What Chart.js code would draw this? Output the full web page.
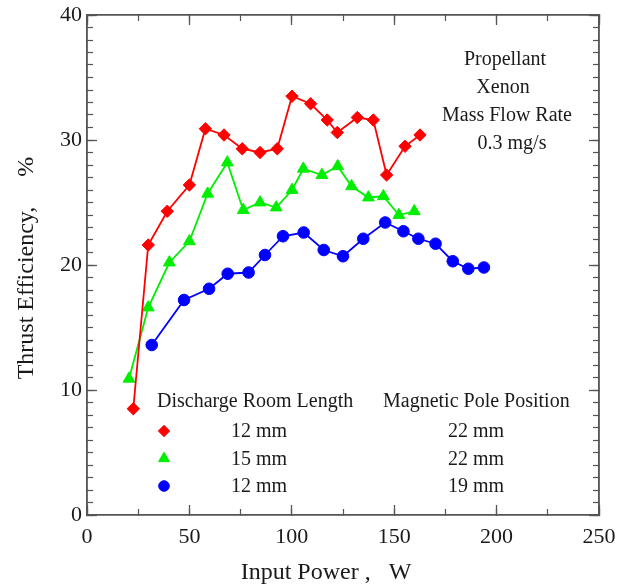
<!DOCTYPE html>
<html>
<head>
<meta charset="utf-8">
<script src="https://cdn.jsdelivr.net/npm/chart.js@4/dist/chart.umd.min.js"></script>
<style>
  html, body { margin: 0; padding: 0; background: #fff; }
  #wrap { width: 630px; height: 587px; }
</style>
</head>
<body>
<div id="wrap"><canvas id="c" width="630" height="587"></canvas></div>
<script>
// Input power (W) and thrust efficiency (%) for each thruster configuration
const redPower   = [22.6, 29.9, 39.2, 50.0, 57.8, 66.9, 75.8, 84.5, 92.9, 100.1, 109.2, 117.3, 122.2, 132.0, 139.8, 146.3, 155.3, 162.6];
const redEff     = [8.5, 21.6, 24.3, 26.4, 30.9, 30.4, 29.3, 29.0, 29.3, 33.5, 32.9, 31.6, 30.6, 31.8, 31.6, 27.2, 29.5, 30.4];

const greenPower = [20.5, 29.9, 40.2, 50.0, 58.9, 68.5, 76.3, 84.5, 92.4, 100.1, 105.6, 114.7, 122.4, 129.2, 137.4, 144.7, 152.3, 159.8];
const greenEff   = [10.9, 16.6, 20.2, 21.9, 25.7, 28.2, 24.4, 25.0, 24.6, 26.0, 27.7, 27.2, 27.9, 26.3, 25.4, 25.5, 24.0, 24.3];

const bluePower  = [31.6, 47.4, 59.6, 68.7, 78.9, 86.9, 95.7, 105.8, 115.6, 125.0, 134.9, 145.6, 154.5, 161.8, 170.2, 178.6, 186.2, 193.8];
const blueEff    = [13.6, 17.2, 18.1, 19.3, 19.4, 20.8, 22.3, 22.6, 21.2, 20.7, 22.1, 23.4, 22.7, 22.1, 21.7, 20.3, 19.7, 19.8];

// Legend table: discharge room length / magnetic pole position
const legendHeaders   = ['Discharge Room Length', 'Magnetic Pole Position'];
const roomLengths     = ['12 mm', '15 mm', '12 mm'];
const polePositions   = ['22 mm', '22 mm', '19 mm'];

// Operating conditions note
const noteLines = ['Propellant', 'Xenon', 'Mass Flow Rate', '0.3 mg/s'];

// Axes
const xRange = [0, 250];
const yRange = [0, 40];
const xTitle = 'Input Power ,   W';
const yTitle = 'Thrust Efficiency,     %';

const SERIF = "'Liberation Serif', 'Times New Roman', serif";
const AXIS_COLOR = '#555';

function pts(xs, ys) { return xs.map((x, i) => ({ x: x, y: ys[i] })); }

const series = [
  { data: pts(redPower, redEff),     color: '#ff0000', style: 'rectRot',  radius: 6.2 },
  { data: pts(greenPower, greenEff), color: '#00ee00', style: 'triangle', radius: 6.8 },
  { data: pts(bluePower, blueEff),   color: '#0000ff', style: 'circle',   radius: 5.8 }
];

// Fix an axis box to an exact size and drop the label overflow padding
function fixSize(horiz, size) {
  return s => {
    if (horiz) s.height = size; else s.width = size;
    s.paddingTop = 0; s.paddingBottom = 0; s.paddingLeft = 0; s.paddingRight = 0;
  };
}

// Axis builder: labelled major axes plus zero-size minor axes that only add inward ticks
function axis(pos, isX, step, opts) {
  return Object.assign({
    type: 'linear',
    position: pos,
    min: isX ? xRange[0] : yRange[0],
    max: isX ? xRange[1] : yRange[1],
    ticks: { stepSize: step, display: false, autoSkip: false },
    grid: { drawOnChartArea: false, drawTicks: true, tickLength: -6, tickColor: AXIS_COLOR, tickWidth: 1.2 },
    border: { display: true, color: AXIS_COLOR, width: 1.6 },
    afterFit: fixSize(isX, 0)
  }, opts || {});
}

const majorGrid = { drawOnChartArea: false, tickLength: -10, tickColor: AXIS_COLOR, tickWidth: 1.3 };

const scales = {
  x: axis('bottom', true, 50, {
    weight: 1,
    ticks: { stepSize: 50, display: true, autoSkip: false, maxRotation: 0, padding: 19,
             color: '#1a1a1a', font: { family: SERIF, size: 22 } },
    grid: majorGrid,
    afterFit: fixSize(true, 72)
  }),
  xMinor: axis('bottom', true, 25, { weight: 0 }),
  xTop: axis('top', true, 50, { weight: 1, grid: majorGrid, afterFit: fixSize(true, 15) }),
  xTopMinor: axis('top', true, 25, { weight: 0 }),
  y: axis('left', false, 10, {
    weight: 1,
    ticks: { stepSize: 10, display: true, autoSkip: false, padding: 15,
             color: '#1a1a1a', font: { family: SERIF, size: 22 } },
    grid: majorGrid,
    afterFit: fixSize(false, 87)
  }),
  yMinor: axis('left', false, 1, { weight: 0 }),
  yRight: axis('right', false, 10, { weight: 1, grid: majorGrid, afterFit: fixSize(false, 31) }),
  yRightMinor: axis('right', false, 1, { weight: 0 })
};

// Text overlay: axis titles, condition note and the legend table
const overlay = {
  id: 'overlay',
  afterDraw(chart) {
    const ctx = chart.ctx;
    ctx.save();
    ctx.fillStyle = '#1a1a1a';
    ctx.textBaseline = 'middle';

    // axis titles
    ctx.font = '24px ' + SERIF;
    ctx.textAlign = 'center';
    ctx.fillText(xTitle, 326, 573);
    ctx.save();
    ctx.translate(27, 268);
    ctx.rotate(-Math.PI / 2);
    ctx.fillText(yTitle, 0, 0);
    ctx.restore();

    // condition note
    ctx.font = '20px ' + SERIF;
    const noteX = [505, 503, 507, 512];
    noteLines.forEach((t, i) => ctx.fillText(t, noteX[i], 60 + i * 28));

    // legend table
    ctx.textAlign = 'left';
    ctx.fillText(legendHeaders[0], 157, 402);
    ctx.fillText(legendHeaders[1], 383, 402);
    series.forEach((s, i) => {
      const yy = 431 + i * 27.5;
      ctx.save();
      ctx.fillStyle = s.color;
      ctx.strokeStyle = s.color;
      ctx.lineWidth = 1;
      Chart.helpers.drawPoint(ctx, { pointStyle: s.style, radius: s.radius - 0.5, rotation: 0, borderWidth: 1 }, 164, yy);
      ctx.restore();
      ctx.fillText(roomLengths[i], 231, yy + 1);
      ctx.fillText(polePositions[i], 448, yy + 1);
    });
    ctx.restore();
  }
};

new Chart(document.getElementById('c'), {
  type: 'scatter',
  data: {
    datasets: series.map(s => ({
      data: s.data,
      showLine: true,
      borderColor: s.color,
      backgroundColor: s.color,
      borderWidth: 1.8,
      pointStyle: s.style,
      pointRadius: s.radius,
      pointBorderWidth: 1,
      pointBackgroundColor: s.color,
      pointBorderColor: s.color,
      tension: 0
    }))
  },
  options: {
    responsive: false,
    animation: false,
    devicePixelRatio: 1,
    layout: { padding: 0 },
    plugins: { legend: { display: false }, tooltip: { enabled: false } },
    scales: scales
  },
  plugins: [overlay]
});
</script>
</body>
</html>
